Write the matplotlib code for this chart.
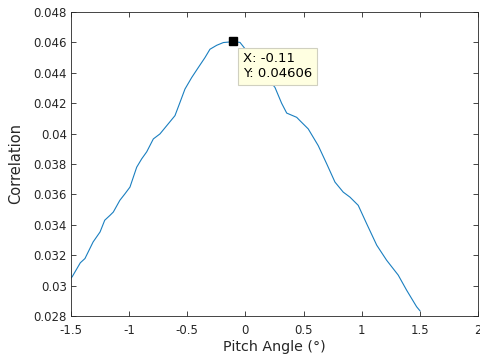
import matplotlib.pyplot as plt

# Correlation vs pitch angle
pitch = [-1.5, -1.49, -1.42, -1.38, -1.31, -1.25, -1.21, -1.165, -1.136, -1.08,
         -1.036, -0.993, -0.935, -0.892, -0.849, -0.792, -0.735, -0.677, -0.606,
         -0.563, -0.52, -0.462, -0.405, -0.348, -0.305, -0.247, -0.19, -0.133,
         -0.11, -0.047, 0.0, 0.12, 0.254, 0.311, 0.355, 0.441, 0.469, 0.54,
         0.626, 0.699, 0.77, 0.841, 0.899, 0.97, 1.042, 1.129, 1.214, 1.314,
         1.386, 1.472, 1.5]
corr = [0.03050, 0.03058, 0.0315, 0.03178, 0.03287, 0.03353, 0.0343, 0.03462,
        0.03484, 0.03561, 0.03604, 0.03648, 0.03779, 0.03834, 0.03880, 0.03965,
        0.03998, 0.04052, 0.04118, 0.04205, 0.04293, 0.04369, 0.04435, 0.04500,
        0.04555, 0.04581, 0.04599, 0.04603, 0.04606, 0.04600, 0.04555, 0.04430,
        0.04304, 0.04200, 0.04135, 0.04107, 0.04085, 0.04031, 0.03921, 0.03801,
        0.03681, 0.03615, 0.03582, 0.03528, 0.03408, 0.03266, 0.03167, 0.03069,
        0.02970, 0.02861, 0.02835]

peak_x = -0.11
peak_y = 0.04606

xticks = [-1.5, -1, -0.5, 0, 0.5, 1, 1.5, 2]
xtick_labels = ['-1.5', '-1', '-0.5', '0', '0.5', '1', '1.5', '2']
yticks = [0.028, 0.03, 0.032, 0.034, 0.036, 0.038, 0.04, 0.042, 0.044, 0.046, 0.048]
ytick_labels = ['0.028', '0.03', '0.032', '0.034', '0.036', '0.038', '0.04',
                '0.042', '0.044', '0.046', '0.048']

axis_color = '#262626'

fig = plt.figure(figsize=(4.81, 3.63), dpi=100)
ax = fig.add_axes([71 / 481, 1 - 316 / 363, 407 / 481, 304 / 363])

ax.plot(pitch, corr, color='#1a7fc0', linewidth=0.8)

# data tip
ax.plot(peak_x, peak_y, marker='s', color='black', markersize=6)
ax.annotate(f'X: {peak_x}\nY: {peak_y}', xy=(peak_x, peak_y),
            xytext=(10, -11), textcoords='offset pixels',
            ha='left', va='top', fontsize=9.5, color='black', linespacing=1.2,
            bbox=dict(boxstyle='square,pad=0.35', facecolor='#FFFFE1',
                      edgecolor='#d0d0c0', linewidth=0.8))

ax.set_xlim(-1.5, 2)
ax.set_ylim(0.028, 0.048)
ax.set_xticks(xticks)
ax.set_xticklabels(xtick_labels)
ax.set_yticks(yticks)
ax.set_yticklabels(ytick_labels)

ax.tick_params(direction='in', top=True, right=True, length=3.5, width=0.6,
               colors=axis_color, labelsize=8.5)
ax.tick_params(axis='x', pad=6)
ax.tick_params(axis='y', pad=3)
for s in ax.spines.values():
    s.set_color(axis_color)
    s.set_linewidth(0.6)

ax.set_xlabel('Pitch Angle (°)', fontsize=10.3, color=axis_color, labelpad=2)
ax.set_ylabel('Correlation', fontsize=10.5, color=axis_color, labelpad=7)

plt.savefig('out.png', dpi=100)
